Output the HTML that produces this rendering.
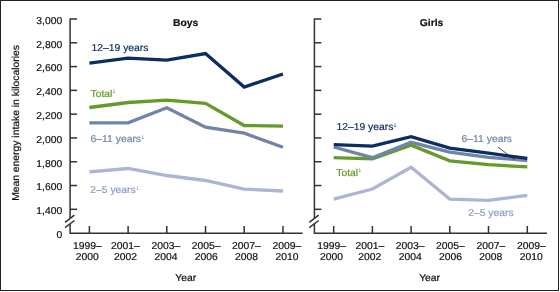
<!DOCTYPE html>
<html><head><meta charset="utf-8"><style>
html,body{margin:0;padding:0;background:#fff;}
svg{display:block;will-change:transform;text-rendering:geometricPrecision;font-family:"Liberation Sans",sans-serif;font-size:10px;}
</style></head><body>
<svg width="560" height="292" viewBox="0 0 560 292">
<rect x="0" y="0" width="560" height="292" fill="#fff"/>
<rect x="0.5" y="0.5" width="558" height="290" fill="none" stroke="#222" stroke-width="1"/>
<g fill="#111">
<text transform="translate(185.70,26.00) scale(1.034,1)" text-anchor="middle" stroke="#111" stroke-width="0.2" font-weight="bold">Boys</text>
<text transform="translate(431.50,26.00) scale(1.034,1)" text-anchor="middle" stroke="#111" stroke-width="0.2" font-weight="bold">Girls</text>
<text transform="translate(19.20,123.00) rotate(-90) scale(1.034,1)" text-anchor="middle" stroke="#111" stroke-width="0.2">Mean energy intake in kilocalories</text>
</g>
<path d="M77.1,19.0 H70.1 V218.5" fill="none" stroke="#333" stroke-width="1.5"/>
<path d="M70.1,42.79 H77.1" stroke="#333" stroke-width="1.5"/>
<path d="M70.1,66.58 H77.1" stroke="#333" stroke-width="1.5"/>
<path d="M70.1,90.37 H77.1" stroke="#333" stroke-width="1.5"/>
<path d="M70.1,114.16 H77.1" stroke="#333" stroke-width="1.5"/>
<path d="M70.1,137.95 H77.1" stroke="#333" stroke-width="1.5"/>
<path d="M70.1,161.74 H77.1" stroke="#333" stroke-width="1.5"/>
<path d="M70.1,185.53 H77.1" stroke="#333" stroke-width="1.5"/>
<path d="M70.1,209.32 H77.1" stroke="#333" stroke-width="1.5"/>
<path d="M70.1,223.8 V233.2 H302.7" fill="none" stroke="#333" stroke-width="1.5"/>
<path d="M89.4,233.2 V226" stroke="#333" stroke-width="1.5"/>
<path d="M128.1,233.2 V226" stroke="#333" stroke-width="1.5"/>
<path d="M166.8,233.2 V226" stroke="#333" stroke-width="1.5"/>
<path d="M205.5,233.2 V226" stroke="#333" stroke-width="1.5"/>
<path d="M244.2,233.2 V226" stroke="#333" stroke-width="1.5"/>
<path d="M283.0,233.2 V226" stroke="#333" stroke-width="1.5"/>
<path d="M65.0,222.4 L74.39999999999999,215.2 M65.0,227.7 L74.39999999999999,220.5" stroke="#333" stroke-width="1.5"/>
<path d="M321.4,19.0 H314.4 V218.5" fill="none" stroke="#333" stroke-width="1.5"/>
<path d="M314.4,42.79 H321.4" stroke="#333" stroke-width="1.5"/>
<path d="M314.4,66.58 H321.4" stroke="#333" stroke-width="1.5"/>
<path d="M314.4,90.37 H321.4" stroke="#333" stroke-width="1.5"/>
<path d="M314.4,114.16 H321.4" stroke="#333" stroke-width="1.5"/>
<path d="M314.4,137.95 H321.4" stroke="#333" stroke-width="1.5"/>
<path d="M314.4,161.74 H321.4" stroke="#333" stroke-width="1.5"/>
<path d="M314.4,185.53 H321.4" stroke="#333" stroke-width="1.5"/>
<path d="M314.4,209.32 H321.4" stroke="#333" stroke-width="1.5"/>
<path d="M314.4,223.8 V233.2 H547" fill="none" stroke="#333" stroke-width="1.5"/>
<path d="M333.7,233.2 V226" stroke="#333" stroke-width="1.5"/>
<path d="M372.4,233.2 V226" stroke="#333" stroke-width="1.5"/>
<path d="M411.1,233.2 V226" stroke="#333" stroke-width="1.5"/>
<path d="M449.8,233.2 V226" stroke="#333" stroke-width="1.5"/>
<path d="M488.5,233.2 V226" stroke="#333" stroke-width="1.5"/>
<path d="M527.3,233.2 V226" stroke="#333" stroke-width="1.5"/>
<path d="M309.29999999999995,222.4 L318.7,215.2 M309.29999999999995,227.7 L318.7,220.5" stroke="#333" stroke-width="1.5"/>
<g fill="#111">
<text transform="translate(62.20,23.80) scale(1.034,1)" text-anchor="end" stroke="#111" stroke-width="0.2">3,000</text>
<text transform="translate(62.20,47.59) scale(1.034,1)" text-anchor="end" stroke="#111" stroke-width="0.2">2,800</text>
<text transform="translate(62.20,71.38) scale(1.034,1)" text-anchor="end" stroke="#111" stroke-width="0.2">2,600</text>
<text transform="translate(62.20,95.17) scale(1.034,1)" text-anchor="end" stroke="#111" stroke-width="0.2">2,400</text>
<text transform="translate(62.20,118.96) scale(1.034,1)" text-anchor="end" stroke="#111" stroke-width="0.2">2,200</text>
<text transform="translate(62.20,142.75) scale(1.034,1)" text-anchor="end" stroke="#111" stroke-width="0.2">2,000</text>
<text transform="translate(62.20,166.54) scale(1.034,1)" text-anchor="end" stroke="#111" stroke-width="0.2">1,800</text>
<text transform="translate(62.20,190.33) scale(1.034,1)" text-anchor="end" stroke="#111" stroke-width="0.2">1,600</text>
<text transform="translate(62.20,214.12) scale(1.034,1)" text-anchor="end" stroke="#111" stroke-width="0.2">1,400</text>
<text transform="translate(62.20,238.10) scale(1.034,1)" text-anchor="end" stroke="#111" stroke-width="0.2">0</text>
<text transform="translate(87.30,248.50) scale(1.034,1)" text-anchor="middle" stroke="#111" stroke-width="0.2">1999–</text>
<text transform="translate(87.30,259.80) scale(1.034,1)" text-anchor="middle" stroke="#111" stroke-width="0.2">2000</text>
<text transform="translate(125.50,248.50) scale(1.034,1)" text-anchor="middle" stroke="#111" stroke-width="0.2">2001–</text>
<text transform="translate(125.50,259.80) scale(1.034,1)" text-anchor="middle" stroke="#111" stroke-width="0.2">2002</text>
<text transform="translate(165.90,248.50) scale(1.034,1)" text-anchor="middle" stroke="#111" stroke-width="0.2">2003–</text>
<text transform="translate(165.90,259.80) scale(1.034,1)" text-anchor="middle" stroke="#111" stroke-width="0.2">2004</text>
<text transform="translate(206.20,248.50) scale(1.034,1)" text-anchor="middle" stroke="#111" stroke-width="0.2">2005–</text>
<text transform="translate(206.20,259.80) scale(1.034,1)" text-anchor="middle" stroke="#111" stroke-width="0.2">2006</text>
<text transform="translate(246.50,248.50) scale(1.034,1)" text-anchor="middle" stroke="#111" stroke-width="0.2">2007–</text>
<text transform="translate(246.50,259.80) scale(1.034,1)" text-anchor="middle" stroke="#111" stroke-width="0.2">2008</text>
<text transform="translate(287.00,248.50) scale(1.034,1)" text-anchor="middle" stroke="#111" stroke-width="0.2">2009–</text>
<text transform="translate(287.00,259.80) scale(1.034,1)" text-anchor="middle" stroke="#111" stroke-width="0.2">2010</text>
<text transform="translate(331.60,248.50) scale(1.034,1)" text-anchor="middle" stroke="#111" stroke-width="0.2">1999–</text>
<text transform="translate(331.60,259.80) scale(1.034,1)" text-anchor="middle" stroke="#111" stroke-width="0.2">2000</text>
<text transform="translate(369.80,248.50) scale(1.034,1)" text-anchor="middle" stroke="#111" stroke-width="0.2">2001–</text>
<text transform="translate(369.80,259.80) scale(1.034,1)" text-anchor="middle" stroke="#111" stroke-width="0.2">2002</text>
<text transform="translate(410.20,248.50) scale(1.034,1)" text-anchor="middle" stroke="#111" stroke-width="0.2">2003–</text>
<text transform="translate(410.20,259.80) scale(1.034,1)" text-anchor="middle" stroke="#111" stroke-width="0.2">2004</text>
<text transform="translate(450.50,248.50) scale(1.034,1)" text-anchor="middle" stroke="#111" stroke-width="0.2">2005–</text>
<text transform="translate(450.50,259.80) scale(1.034,1)" text-anchor="middle" stroke="#111" stroke-width="0.2">2006</text>
<text transform="translate(490.80,248.50) scale(1.034,1)" text-anchor="middle" stroke="#111" stroke-width="0.2">2007–</text>
<text transform="translate(490.80,259.80) scale(1.034,1)" text-anchor="middle" stroke="#111" stroke-width="0.2">2008</text>
<text transform="translate(531.30,248.50) scale(1.034,1)" text-anchor="middle" stroke="#111" stroke-width="0.2">2009–</text>
<text transform="translate(531.30,259.80) scale(1.034,1)" text-anchor="middle" stroke="#111" stroke-width="0.2">2010</text>
<text transform="translate(185.80,280.70) scale(1.034,1)" text-anchor="middle" stroke="#111" stroke-width="0.2">Year</text>
<text transform="translate(429.60,280.70) scale(1.034,1)" text-anchor="middle" stroke="#111" stroke-width="0.2">Year</text>
</g>
<polyline points="89.4,171.9 128.1,168.5 166.8,175.5 205.5,180.5 244.2,189.1 283.0,191.0" fill="none" stroke="#acb6d2" stroke-width="3.3" stroke-linejoin="miter"/>
<polyline points="89.4,122.8 128.1,122.8 166.8,107.8 205.5,127.2 244.2,133.2 283.0,147.2" fill="none" stroke="#7084aa" stroke-width="3.3" stroke-linejoin="miter"/>
<polyline points="89.4,107.5 128.1,102.5 166.8,100.1 205.5,103.4 244.2,125.5 283.0,126.1" fill="none" stroke="#679a2b" stroke-width="3.3" stroke-linejoin="miter"/>
<polyline points="89.4,63.1 128.1,58.2 166.8,60.1 205.5,53.6 244.2,87.1 283.0,74.0" fill="none" stroke="#0b2d5f" stroke-width="3.3" stroke-linejoin="miter"/>
<polyline points="333.7,199.1 372.4,189.0 411.1,167.2 449.8,199.1 488.5,200.4 527.3,195.4" fill="none" stroke="#acb6d2" stroke-width="3.3" stroke-linejoin="miter"/>
<polyline points="333.7,157.7 372.4,158.9 411.1,145.1 449.8,160.8 488.5,164.7 527.3,166.9" fill="none" stroke="#679a2b" stroke-width="3.3" stroke-linejoin="miter"/>
<polyline points="333.7,147.0 372.4,157.7 411.1,142.3 449.8,152.1 488.5,157.3 527.3,160.5" fill="none" stroke="#7084aa" stroke-width="3.3" stroke-linejoin="miter"/>
<polyline points="333.7,144.6 372.4,146.2 411.1,136.7 449.8,148.2 488.5,153.2 527.3,158.4" fill="none" stroke="#0b2d5f" stroke-width="3.3" stroke-linejoin="miter"/>
<path d="M498,147.1 L514.7,159.7" stroke="#222" stroke-width="0.8"/>
<text transform="translate(91.50,50.70) scale(1.034,1)" text-anchor="start" fill="#0b2d5f" stroke="#0b2d5f" stroke-width="0.2">12–19 years</text>
<text transform="translate(90.50,96.50) scale(1.034,1)" text-anchor="start" fill="#679a2b" stroke="#679a2b" stroke-width="0.2">Total<tspan font-size="5.2" dx="0.2" dy="-3.2" stroke-width="0">1</tspan></text>
<text transform="translate(90.60,141.80) scale(1.034,1)" text-anchor="start" fill="#7084aa" stroke="#7084aa" stroke-width="0.2">6–11 years<tspan font-size="5.2" dx="0.2" dy="-3.2" stroke-width="0">1</tspan></text>
<text transform="translate(90.30,193.00) scale(1.034,1)" text-anchor="start" fill="#8d9cc4" stroke="#8d9cc4" stroke-width="0.2">2–5 years<tspan font-size="5.2" dx="0.2" dy="-3.2" stroke-width="0">1</tspan></text>
<text transform="translate(336.40,130.00) scale(1.034,1)" text-anchor="start" fill="#0b2d5f" stroke="#0b2d5f" stroke-width="0.2">12–19 years<tspan font-size="5.2" dx="0.2" dy="-3.2" stroke-width="0">1</tspan></text>
<text transform="translate(336.30,175.50) scale(1.034,1)" text-anchor="start" fill="#679a2b" stroke="#679a2b" stroke-width="0.2">Total<tspan font-size="5.2" dx="0.2" dy="-3.2" stroke-width="0">1</tspan></text>
<text transform="translate(461.60,141.80) scale(1.034,1)" text-anchor="start" fill="#7084aa" stroke="#7084aa" stroke-width="0.2">6–11 years</text>
<text transform="translate(468.20,215.60) scale(1.034,1)" text-anchor="start" fill="#8d9cc4" stroke="#8d9cc4" stroke-width="0.2">2–5 years</text>
</svg>
</body></html>
